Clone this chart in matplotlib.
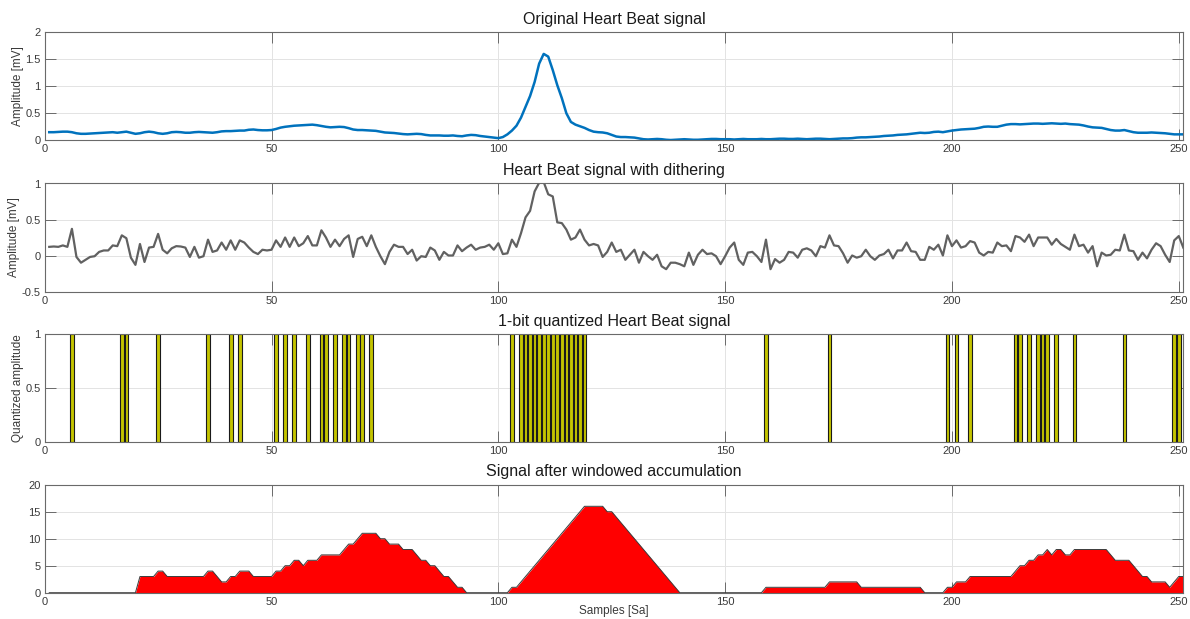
import matplotlib
matplotlib.use("Agg")
import matplotlib.pyplot as plt

plt.rcParams['font.family'] = ['Liberation Sans', 'DejaVu Sans']

samples = list(range(1, 252))

original = [
    0.15, 0.15, 0.155, 0.16, 0.16, 0.15, 0.13, 0.12, 0.12, 0.125,
    0.13, 0.135, 0.14, 0.145, 0.15, 0.14, 0.15, 0.16, 0.14, 0.12,
    0.13, 0.15, 0.16, 0.15, 0.13, 0.12, 0.13, 0.15, 0.155, 0.15,
    0.14, 0.14, 0.15, 0.155, 0.15, 0.145, 0.14, 0.15, 0.165, 0.17,
    0.17, 0.175, 0.18, 0.18, 0.195, 0.2, 0.19, 0.185, 0.185, 0.19,
    0.21, 0.235, 0.25, 0.26, 0.27, 0.275, 0.28, 0.285, 0.29, 0.28,
    0.265, 0.25, 0.24, 0.245, 0.25, 0.245, 0.225, 0.2, 0.19, 0.19,
    0.185, 0.18, 0.175, 0.16, 0.145, 0.14, 0.135, 0.125, 0.115, 0.11,
    0.115, 0.12, 0.115, 0.1, 0.09, 0.09, 0.09, 0.085, 0.085, 0.09,
    0.08, 0.075, 0.09, 0.1, 0.095, 0.08, 0.07, 0.06, 0.05, 0.04,
    0.06, 0.11, 0.18, 0.27, 0.42, 0.62, 0.82, 1.08, 1.42, 1.6,
    1.55, 1.3, 1.02, 0.78, 0.5, 0.34, 0.29, 0.26, 0.23, 0.19,
    0.16, 0.15, 0.145, 0.13, 0.1, 0.07, 0.06, 0.06, 0.055, 0.05,
    0.035, 0.02, 0.015, 0.02, 0.025, 0.02, 0.01, 0.005, 0.01, 0.015,
    0.02, 0.015, 0.01, 0.01, 0.015, 0.02, 0.025, 0.025, 0.02, 0.02,
    0.02, 0.015, 0.02, 0.025, 0.02, 0.02, 0.02, 0.025, 0.02, 0.02,
    0.025, 0.03, 0.03, 0.025, 0.025, 0.03, 0.025, 0.02, 0.025, 0.03,
    0.03, 0.025, 0.02, 0.025, 0.03, 0.035, 0.035, 0.04, 0.05, 0.055,
    0.055, 0.06, 0.065, 0.07, 0.08, 0.085, 0.09, 0.1, 0.105, 0.11,
    0.12, 0.13, 0.14, 0.135, 0.14, 0.155, 0.16, 0.15, 0.165, 0.18,
    0.19, 0.2, 0.205, 0.21, 0.215, 0.23, 0.25, 0.255, 0.25, 0.25,
    0.27, 0.29, 0.3, 0.3, 0.295, 0.3, 0.305, 0.31, 0.31, 0.305,
    0.31, 0.315, 0.31, 0.305, 0.31, 0.3, 0.295, 0.29, 0.275, 0.255,
    0.24, 0.235, 0.23, 0.21, 0.19, 0.18, 0.18, 0.19, 0.17, 0.15,
    0.14, 0.14, 0.14, 0.145, 0.14, 0.135, 0.13, 0.12, 0.11, 0.11,
    0.11,
]

dithered = [
    0.12, 0.125, 0.12, 0.14, 0.12, 0.37, -0.02, -0.10, -0.06, -0.02,
    -0.01, 0.05, 0.07, 0.07, 0.14, 0.13, 0.28, 0.24, -0.03, -0.13,
    0.16, -0.09, 0.11, 0.12, 0.30, 0.08, 0.03, 0.10, 0.13, 0.125,
    0.11, -0.02, 0.12, -0.03, -0.01, 0.22, 0.05, 0.07, 0.18, 0.08,
    0.21, 0.08, 0.21, 0.18, 0.11, 0.05, 0.02, 0.08, 0.07, 0.08,
    0.21, 0.12, 0.25, 0.12, 0.25, 0.13, 0.17, 0.27, 0.14, 0.14,
    0.35, 0.25, 0.12, 0.22, 0.13, 0.23, 0.28, -0.02, 0.23, 0.26,
    0.13, 0.28, 0.12, -0.01, -0.12, 0.05, 0.15, 0.12, 0.12, 0.02,
    0.08, -0.07, -0.01, -0.02, 0.11, 0.07, -0.06, 0.05, 0.0, 0.0,
    0.14, 0.06, 0.11, 0.15, 0.08, 0.11, 0.12, 0.15, 0.08, 0.17,
    0.02, 0.03, 0.22, 0.12, 0.31, 0.53, 0.62, 0.89, 1.01, 1.02,
    0.85, 0.82, 0.46, 0.45, 0.36, 0.22, 0.25, 0.36, 0.22, 0.14,
    0.16, 0.14, -0.02, 0.05, 0.18, 0.05, 0.08, -0.06, 0.01, 0.08,
    -0.10, 0.05, -0.01, -0.06, 0.01, -0.15, -0.19, -0.10, -0.10, -0.12,
    -0.15, 0.04, -0.13, 0.01, 0.08, 0.02, 0.03, -0.01, -0.12, -0.01,
    0.11, 0.18, -0.06, -0.13, 0.04, 0.05, -0.01, -0.09, 0.22, -0.19,
    -0.05, -0.10, -0.06, 0.05, 0.04, -0.03, 0.08, 0.10, 0.07, -0.01,
    0.13, 0.11, 0.28, 0.14, 0.13, 0.03, -0.10, 0.0, -0.03, -0.01,
    0.08, -0.01, -0.06, 0.0, 0.02, 0.08, -0.04, 0.07, 0.07, 0.18,
    0.06, 0.05, -0.06, -0.06, 0.12, 0.08, 0.15, 0.0, 0.28, 0.13,
    0.21, 0.11, 0.13, 0.20, 0.18, 0.04, 0.0, 0.05, 0.04, 0.18,
    0.13, 0.14, 0.06, 0.27, 0.25, 0.19, 0.29, 0.13, 0.25, 0.25,
    0.25, 0.15, 0.23, 0.16, 0.12, 0.08, 0.29, 0.13, 0.15, 0.04,
    0.13, -0.15, 0.04, 0.0, 0.01, 0.08, 0.07, 0.29, 0.07, 0.06,
    -0.06, 0.04, -0.04, 0.08, 0.17, 0.13, 0.01, -0.09, 0.21, 0.27,
    0.11,
]

quant_samples = [6, 17, 18, 25, 36, 41, 43, 51, 53, 55, 58, 61, 62, 64, 66,
                 67, 69, 70, 72, 103, 105, 106, 107, 108, 109, 110, 111, 112,
                 113, 114, 115, 116, 117, 118, 119, 159, 173, 199, 201, 204,
                 214, 215, 217, 219, 220, 221, 223, 227, 238, 249, 250]
quant_values = [1] * len(quant_samples)

accumulated = [
    0, 0, 0, 0, 0, 0, 0, 0, 0, 0,
    0, 0, 0, 0, 0, 0, 0, 0, 0, 0,
    3, 3, 3, 3, 4, 4, 3, 3, 3, 3,
    3, 3, 3, 3, 3, 4, 4, 3, 2, 2,
    3, 3, 4, 4, 4, 3, 3, 3, 3, 3,
    4, 4, 5, 5, 6, 6, 5, 6, 6, 6,
    7, 7, 7, 7, 7, 8, 9, 9, 10, 11,
    11, 11, 11, 10, 10, 9, 9, 9, 8, 8,
    8, 7, 6, 6, 5, 5, 4, 3, 3, 2,
    1, 1, 0, 0, 0, 0, 0, 0, 0, 0,
    0, 0, 1, 1, 2, 3, 4, 5, 6, 7,
    8, 9, 10, 11, 12, 13, 14, 15, 16, 16,
    16, 16, 16, 15, 15, 14, 13, 12, 11, 10,
    9, 8, 7, 6, 5, 4, 3, 2, 1, 0,
    0, 0, 0, 0, 0, 0, 0, 0, 0, 0,
    0, 0, 0, 0, 0, 0, 0, 0, 1, 1,
    1, 1, 1, 1, 1, 1, 1, 1, 1, 1,
    1, 1, 2, 2, 2, 2, 2, 2, 2, 1,
    1, 1, 1, 1, 1, 1, 1, 1, 1, 1,
    1, 1, 1, 0, 0, 0, 0, 0, 1, 1,
    2, 2, 2, 3, 3, 3, 3, 3, 3, 3,
    3, 3, 3, 4, 5, 5, 6, 6, 7, 7,
    8, 7, 8, 8, 7, 7, 8, 8, 8, 8,
    8, 8, 8, 8, 7, 6, 6, 6, 6, 5,
    4, 3, 3, 2, 2, 2, 2, 1, 2, 3,
    3,
]

titles = ["Original Heart Beat signal", "Heart Beat signal with dithering",
          "1-bit quantized Heart Beat signal", "Signal after windowed accumulation"]
ylabels = ["Amplitude [mV]", "Amplitude [mV]", "Quantized amplitude", ""]
yticks = [[0, 0.5, 1, 1.5, 2], [-0.5, 0, 0.5, 1], [0, 0.5, 1], [0, 5, 10, 15, 20]]
ytick_labels = [["0", "0.5", "1", "1.5", "2"], ["-0.5", "0", "0.5", "1"],
                ["0", "0.5", "1"], ["0", "5", "10", "15", "20"]]
ylims = [(0, 2), (-0.5, 1), (0, 1), (0, 20)]
xticks = [0, 50, 100, 150, 200, 250]

W, H = 1190, 619
fig = plt.figure(figsize=(W / 100, H / 100), dpi=100)

left = 44.7 / W
width = (1183.3 - 44.7) / W
tops = [32.3, 183.5, 334.0, 484.7]
ah = 108.0

axes = []
for i in range(4):
    ax = fig.add_axes([left, 1 - (tops[i] + ah) / H, width, ah / H])
    axes.append(ax)

axis_col = '#6a6a6a'
text_col = '#3a3a3a'

axes[0].plot(samples, original, color='#0072BD', lw=1.8)
axes[1].plot(samples, dithered, color='#616161', lw=1.6)
axes[2].bar(quant_samples, quant_values, width=0.8, color='#c4c400',
            edgecolor='#1a1a1a', linewidth=0.8)
axes[3].fill_between(samples, accumulated, 0, color='#ff0000', lw=0)
axes[3].plot(samples, accumulated, color='#3a3a3a', lw=0.7)

for i, ax in enumerate(axes):
    ax.set_xlim(0, 251)
    ax.set_ylim(*ylims[i])
    ax.set_xticks(xticks)
    ax.set_xticklabels([str(t) for t in xticks])
    ax.set_yticks(yticks[i])
    ax.set_yticklabels(ytick_labels[i])
    ax.grid(True, color='#e3e3e3', lw=0.7)
    ax.set_axisbelow(True)
    for sp in ax.spines.values():
        sp.set_color(axis_col)
        sp.set_linewidth(0.8)
    ax.tick_params(direction='in', length=8, width=0.7, color=axis_col,
                   labelsize=8, labelcolor=text_col, top=True, right=True,
                   pad=3)
    ax.set_title(titles[i], fontsize=11.5, color='#1a1a1a', pad=6)
    if ylabels[i]:
        ax.set_ylabel(ylabels[i], fontsize=8.5, color=text_col, labelpad=1)

axes[3].set_xlabel("Samples [Sa]", fontsize=8.5, color=text_col, labelpad=-1)

fig.savefig("out.png", dpi=100)
